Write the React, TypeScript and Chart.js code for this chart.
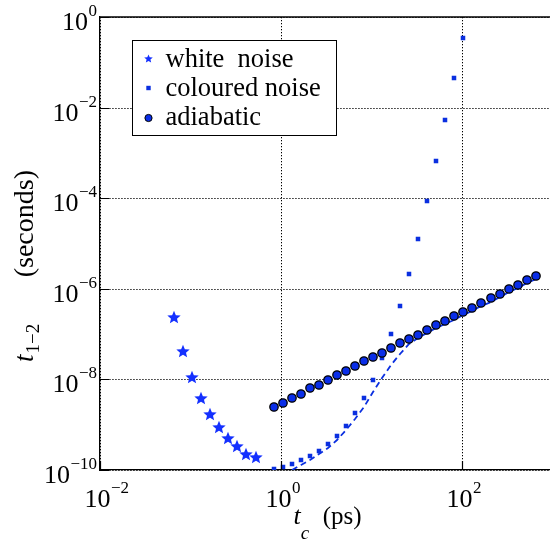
import React, { useEffect, useRef } from 'react';
import { Chart, registerables } from 'chart.js';
Chart.register(...registerables);

// ---- data ----
const whiteNoiseTc = [0.0661, 0.0832, 0.105, 0.132, 0.166, 0.209, 0.263, 0.331, 0.417, 0.525];
const whiteNoiseT = [2.34e-7, 4.3e-8, 1.15e-8, 3.9e-9, 1.7e-9, 8.9e-10, 5.1e-10, 3.4e-10, 2.3e-10, 1.9e-10];

const adiabaticTc = [0.832, 1.047, 1.318, 1.66, 2.089, 2.63, 3.311, 4.169, 5.248, 6.607, 8.318, 10.47, 13.18, 16.6, 20.89, 26.3, 33.11, 41.69, 52.48, 66.07, 83.18, 104.7, 131.8, 166.0, 208.9, 263.0, 331.1, 416.9, 524.8, 660.7];
const adiabaticT = [2.51e-9, 3.08e-9, 3.92e-9, 4.88e-9, 6.3e-9, 7.71e-9, 9.8e-9, 1.24e-8, 1.55e-8, 1.97e-8, 2.49e-8, 3.11e-8, 3.87e-8, 4.92e-8, 6.22e-8, 7.8e-8, 9.7e-8, 1.23e-7, 1.56e-7, 1.95e-7, 2.47e-7, 3.08e-7, 3.84e-7, 4.88e-7, 6.17e-7, 7.83e-7, 9.75e-7, 1.24e-6, 1.54e-6, 1.96e-6];

const colouredTc = [0.832, 1.047, 1.318, 1.66, 2.089, 2.63, 3.311, 4.169, 5.248, 6.607, 8.318, 10.47, 13.18, 16.6, 20.89, 26.3, 33.11, 41.69, 52.48, 66.07, 83.18, 104.7];
const colouredT = [1.03e-10, 1.16e-10, 1.34e-10, 1.64e-10, 2.01e-10, 2.63e-10, 3.76e-10, 5.65e-10, 9.55e-10, 1.8e-9, 3.89e-9, 9.67e-9, 2.91e-8, 1.0e-7, 4.19e-7, 2.14e-6, 1.27e-5, 8.8e-5, 6.76e-4, 5.46e-3, 4.4e-2, 0.338];

const dashedTc = [1.318, 1.66, 2.089, 2.63, 3.311, 4.169, 5.248, 6.607, 8.318, 10.47, 13.18, 16.6, 20.89, 26.3, 33.11, 41.69, 52.48, 66.07, 83.18, 104.7, 131.8, 166.0, 208.9, 263.0, 331.1, 416.9, 524.8, 660.7];
const dashedT = [1.0e-10, 1.29e-10, 1.66e-10, 2.2e-10, 3.07e-10, 4.6e-10, 7.7e-10, 1.34e-9, 2.48e-9, 5.3e-9, 1.08e-8, 2.1e-8, 3.68e-8, 6.1e-8, 8.2e-8, 1.05e-7, 1.33e-7, 1.66e-7, 2.1e-7, 2.62e-7, 3.26e-7, 4.15e-7, 5.24e-7, 6.66e-7, 8.29e-7, 1.05e-6, 1.31e-6, 1.67e-6];

const xTickExps = [-2, 0, 2];
const yTickExps = [-10, -8, -6, -4, -2, 0];
const legendLabels = ['white  noise', 'coloured noise', 'adiabatic'];

const STAR_COLOR = '#1430ff';
const SQUARE_COLOR = '#0a2fe0';
const CIRCLE_COLOR = '#0a2ee8';
const SERIF = '"Liberation Serif", "Times New Roman", serif';

function makeStar(size: number, color: string) {
  const c = document.createElement('canvas');
  c.width = size;
  c.height = size;
  const ctx = c.getContext('2d')!;
  const cx = size / 2, cy = size / 2 + size * 0.05;
  const ro = size / 2, ri = ro * 0.45;
  ctx.beginPath();
  for (let i = 0; i < 10; i++) {
    const r = i % 2 === 0 ? ro : ri;
    const a = -Math.PI / 2 + (i * Math.PI) / 5;
    const px = cx + r * Math.cos(a), py = cy + r * Math.sin(a);
    if (i === 0) ctx.moveTo(px, py); else ctx.lineTo(px, py);
  }
  ctx.closePath();
  ctx.fillStyle = color;
  ctx.fill();
  return c;
}

function pts(xs: number[], ys: number[]) {
  return xs.map((x, i) => ({ x, y: ys[i] }));
}

function drawPow(ctx: CanvasRenderingContext2D, exp: number, x: number, y: number, mode: 'center10' | 'right') {
  const base = '10';
  const sup = exp < 0 ? '\u2212' + Math.abs(exp) : String(exp);
  ctx.font = `26px ${SERIF}`;
  const wb = ctx.measureText(base).width;
  ctx.font = `17px ${SERIF}`;
  const ws = ctx.measureText(sup).width;
  let left: number;
  if (mode === 'center10') left = x - wb / 2;
  else left = x - wb - ws;
  ctx.textAlign = 'left';
  ctx.textBaseline = 'alphabetic';
  ctx.fillStyle = '#000';
  ctx.font = `26px ${SERIF}`;
  ctx.fillText(base, left, y);
  ctx.font = `17px ${SERIF}`;
  ctx.fillText(sup, left + wb + 0.5, y - 14);
}

const overlayPlugin = {
  id: 'overlay',
  afterDraw(chart: any, _a: any, opts: any) {
    const ctx: CanvasRenderingContext2D = chart.ctx;
    const { left, right, top, bottom } = chart.chartArea;
    const xs = chart.scales.x, ys = chart.scales.y;
    ctx.save();
    // top border
    ctx.strokeStyle = '#000';
    ctx.lineWidth = 1.3;
    ctx.beginPath();
    ctx.moveTo(left, top);
    ctx.lineTo(right, top);
    ctx.stroke();
    // inward ticks
    ctx.lineWidth = 1.2;
    ctx.beginPath();
    xTickExps.forEach((e) => {
      const px = Math.round(xs.getPixelForValue(Math.pow(10, e))) + 0.5;
      ctx.moveTo(px, bottom);
      ctx.lineTo(px, bottom - 9);
    });
    yTickExps.forEach((e) => {
      const py = Math.round(ys.getPixelForValue(Math.pow(10, e))) + 0.5;
      ctx.moveTo(left, py);
      ctx.lineTo(left + 9, py);
    });
    ctx.stroke();
    // tick labels
    xTickExps.forEach((e) => {
      const px = xs.getPixelForValue(Math.pow(10, e));
      drawPow(ctx, e, px - 2.5, bottom + 36.5, 'center10');
    });
    yTickExps.forEach((e) => {
      const py = ys.getPixelForValue(Math.pow(10, e));
      drawPow(ctx, e, left - 3.5, py + 13, 'right');
    });
    // x title: t_c  (ps)
    {
      ctx.fillStyle = '#000';
      ctx.textAlign = 'left';
      ctx.font = `italic 26px ${SERIF}`;
      const wt = ctx.measureText('t').width;
      ctx.font = `italic 19px ${SERIF}`;
      const wc = ctx.measureText('c').width;
      ctx.font = `25px ${SERIF}`;
      const wp = ctx.measureText('  (ps)').width;
      const total = wt + wc + wp;
      const x0 = (left + right) / 2 - total / 2 + 1;
      const by = 524;
      ctx.font = `italic 26px ${SERIF}`;
      ctx.fillText('t', x0, by);
      ctx.font = `italic 19px ${SERIF}`;
      ctx.fillText('c', x0 + wt, by + 15);
      ctx.font = `25px ${SERIF}`;
      ctx.fillText('  (ps)', x0 + wt + wc + 1, by);
    }
    // y title: t_{1-2}  (seconds)
    {
      ctx.save();
      ctx.translate(33, 266);
      ctx.rotate(-Math.PI / 2);
      ctx.fillStyle = '#000';
      ctx.textBaseline = 'alphabetic';
      ctx.textAlign = 'left';
      ctx.font = `italic 27px ${SERIF}`;
      const wt = ctx.measureText('t').width;
      const x0 = -96;
      ctx.fillText('t', x0, 0);
      ctx.font = `19px ${SERIF}`;
      ctx.fillText('1\u22122', x0 + wt + 1, 6);
      ctx.font = `28px ${SERIF}`;
      ctx.textAlign = 'right';
      ctx.fillText('(seconds)', 96, 0);
      ctx.restore();
    }
    // legend
    {
      const bx = 132.5, byy = 40.5, bw = 204, bh = 95;
      ctx.fillStyle = '#fff';
      ctx.fillRect(bx, byy, bw, bh);
      ctx.strokeStyle = '#000';
      ctx.lineWidth = 1;
      ctx.strokeRect(bx, byy, bw, bh);
      const rows = [58.5, 88, 118];
      const baselines = [66.5, 95.5, 124.5];
      const mx = 148.5;
      const star = opts.legendStar as HTMLCanvasElement;
      ctx.drawImage(star, mx - star.width / 2, rows[0] - star.height / 2);
      ctx.fillStyle = SQUARE_COLOR;
      ctx.fillRect(mx - 2.2, rows[1] - 2.2, 4.4, 4.4);
      ctx.beginPath();
      ctx.arc(mx, rows[2], 3.6, 0, Math.PI * 2);
      ctx.fillStyle = CIRCLE_COLOR;
      ctx.fill();
      ctx.strokeStyle = '#000';
      ctx.lineWidth = 1;
      ctx.stroke();
      ctx.fillStyle = '#000';
      ctx.font = `26.5px ${SERIF}`;
      ctx.textAlign = 'left';
      ctx.textBaseline = 'alphabetic';
      legendLabels.forEach((l, i) => ctx.fillText(l, 165.5, baselines[i]));
    }
    ctx.restore();
  },
};

export default function App() {
  const ref = useRef<HTMLCanvasElement>(null);
  useEffect(() => {
    document.body.style.margin = '0';
    const starPt = makeStar(14, STAR_COLOR);
    const starLeg = makeStar(9, STAR_COLOR);
    const setTicks = (exps: number[]) => (scale: any) => {
      scale.ticks = exps.map((e) => ({ value: Math.pow(10, e) }));
    };
    const gridCommon = {
      color: '#000',
      lineWidth: 1,
      drawTicks: false,
    };
    const chart = new Chart(ref.current!, {
      type: 'scatter',
      data: {
        datasets: [
          {
            label: 'adiabatic',
            data: pts(adiabaticTc, adiabaticT),
            pointStyle: 'circle',
            pointRadius: 4.2,
            backgroundColor: CIRCLE_COLOR,
            borderColor: '#000',
            pointBorderWidth: 1.3,
            showLine: false,
            order: 1,
          },
          {
            label: 'coloured noise',
            data: pts(colouredTc, colouredT),
            pointStyle: 'rect',
            pointRadius: 3.2,
            backgroundColor: SQUARE_COLOR,
            borderColor: SQUARE_COLOR,
            pointBorderWidth: 0,
            showLine: false,
            order: 2,
          },
          {
            label: 'white  noise',
            data: pts(whiteNoiseTc, whiteNoiseT),
            pointStyle: starPt as any,
            pointRadius: 7,
            backgroundColor: STAR_COLOR,
            borderColor: STAR_COLOR,
            showLine: false,
            order: 3,
          },
          {
            label: 'fit',
            data: pts(dashedTc, dashedT),
            showLine: true,
            pointRadius: 0,
            borderColor: '#0a2fe0',
            borderWidth: 1.8,
            borderDash: [6, 4],
            fill: false,
            order: 4,
          },
        ],
      },
      options: {
        animation: false,
        responsive: false,
        maintainAspectRatio: false,
        events: [],
        layout: { padding: { left: 100, top: 17, right: 8, bottom: 72 } },
        plugins: {
          legend: { display: false },
          tooltip: { enabled: false },
          overlay: { legendStar: starLeg },
        } as any,
        scales: {
          x: {
            type: 'logarithmic',
            min: 0.01,
            max: 1000,
            alignToPixels: true,
            afterBuildTicks: setTicks(xTickExps),
            ticks: { display: false },
            grid: gridCommon,
            border: { display: true, color: '#000', width: 1.3, dash: [1.3, 1.7] },
          },
          y: {
            type: 'logarithmic',
            min: 1e-10,
            max: 1,
            alignToPixels: true,
            afterBuildTicks: setTicks(yTickExps),
            ticks: { display: false },
            grid: gridCommon,
            border: { display: true, color: '#000', width: 1.3, dash: [1.3, 1.7] },
          },
        },
      },
      plugins: [overlayPlugin],
    });
    return () => chart.destroy();
  }, []);
  return (
    <div style={{ position: 'fixed', left: 0, top: 0, width: 550, height: 542, overflow: 'hidden', background: '#fff' }}>
      <canvas ref={ref} width={560} height={542} style={{ width: 560, height: 542, display: 'block' }} />
    </div>
  );
}
